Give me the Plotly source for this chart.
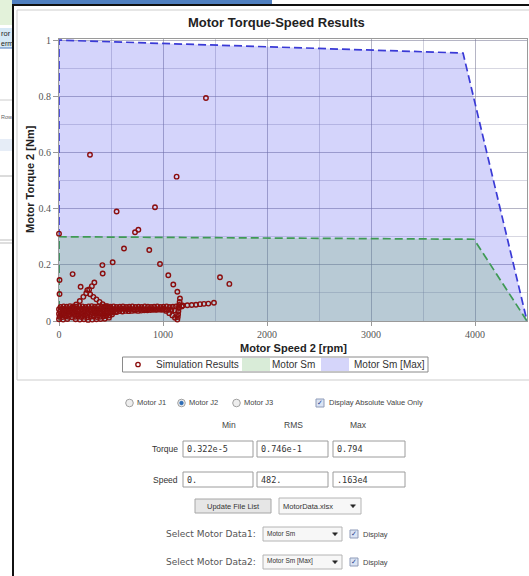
import plotly.graph_objects as go

# ---------------- data ----------------
# Motor Sm [Max] envelope (speed rpm, torque Nm)
max_speed = [0, 0, 3885, 4500]
max_torque = [0, 1.0, 0.954, 0]

# Motor Sm envelope
sm_speed = [0, 0, 3990, 4500]
sm_torque = [0, 0.300, 0.291, 0]

# Simulation results
sim_speed = [
    # isolated points
    1413, 298, 1131, 923, 554, 0, 731, 763, 625, 868, 516, 417, 971, 131, 420,
    1051, 1099, 1138, 1163, 1548, 1638, 5, 5, 208, 272, 340,
    # rising diagonal
    45, 90, 130, 165, 200, 234, 262, 290, 316,
    # falling diagonal
    300, 330, 360, 390, 420, 450, 480, 510,
    # right tail
    1189, 1234, 1276, 1317, 1356, 1394, 1436, 1490,
    # column near 1150
    1160, 1156, 1152, 1148, 1145, 1142, 1138,
    # slanted return
    1000, 1030, 1060, 1090, 1115,
    # band a
    15, 45, 75, 105, 135, 165, 195, 225, 255, 285, 315, 345, 375, 405, 435, 465,
    495, 525, 555, 585, 615, 645, 675, 705, 735, 765, 795, 825, 855, 885, 915,
    945, 975, 1005, 1035, 1065, 1095, 1125, 1155, 1180,
    # band b
    0, 30, 60, 90, 120, 150, 180, 210, 240, 270, 300, 330, 360, 390, 420, 450,
    480, 510, 540, 570, 600, 630, 660, 690, 720, 750, 780, 810, 840, 870, 900,
    930, 960, 990, 1020, 1050, 1080, 1110,
    # band c
    10, 40, 70, 100, 130, 160, 190, 220, 250, 280, 310, 340, 370, 400, 430, 460,
    490, 520, 550, 580, 610, 640, 670, 700, 730, 760, 790, 820, 850, 880, 910,
    940, 970,
    # band d
    0, 25, 50, 75, 100, 125, 150, 175, 200, 225, 250, 275, 300, 325, 350, 375,
    400, 425, 450, 475, 500, 525, 555,
    # band e
    5, 35, 65, 95, 125, 155, 185, 215, 245, 275, 305, 335, 365, 395, 425, 455,
    485, 510,
    # band f
    0, 40, 80, 160, 200, 240, 280, 320, 360, 400, 440, 480,
]
sim_torque = [
    0.794, 0.592, 0.514, 0.405, 0.390, 0.311, 0.316, 0.325, 0.258, 0.253, 0.209,
    0.199, 0.203, 0.167, 0.169, 0.163, 0.130, 0.104, 0.080, 0.156, 0.132, 0.146,
    0.096, 0.122, 0.110, 0.137,
    0.027, 0.037, 0.048, 0.059, 0.071, 0.086, 0.099, 0.112, 0.124,
    0.095, 0.086, 0.077, 0.068, 0.060, 0.053, 0.047, 0.041,
    0.055, 0.056, 0.057, 0.058, 0.060, 0.061, 0.062, 0.065,
    0.068, 0.057, 0.046, 0.035, 0.024, 0.014, 0.005,
    0.043, 0.036, 0.028, 0.020, 0.012,
    0.050, 0.052, 0.051, 0.053, 0.052, 0.051, 0.053, 0.052, 0.050, 0.052, 0.053,
    0.051, 0.052, 0.050, 0.052, 0.053, 0.051, 0.052, 0.050, 0.051, 0.052, 0.050,
    0.051, 0.052, 0.050, 0.051, 0.050, 0.052, 0.051, 0.050, 0.051, 0.052, 0.050,
    0.051, 0.052, 0.050, 0.051, 0.052, 0.050, 0.052,
    0.042, 0.044, 0.043, 0.042, 0.044, 0.043, 0.041, 0.043, 0.044, 0.042, 0.043,
    0.044, 0.042, 0.043, 0.041, 0.043, 0.044, 0.042, 0.043, 0.042, 0.044, 0.043,
    0.042, 0.043, 0.041, 0.042, 0.043, 0.042, 0.041, 0.043, 0.042, 0.041, 0.042,
    0.040, 0.041, 0.040, 0.039, 0.038,
    0.034, 0.033, 0.035, 0.034, 0.032, 0.034, 0.035, 0.033, 0.034, 0.032, 0.033,
    0.035, 0.034, 0.032, 0.034, 0.033, 0.035, 0.034, 0.033, 0.035, 0.034, 0.036,
    0.035, 0.036, 0.037, 0.036, 0.037, 0.038, 0.038, 0.039, 0.040, 0.040, 0.041,
    0.026, 0.024, 0.025, 0.027, 0.024, 0.026, 0.025, 0.023, 0.026, 0.025, 0.024,
    0.026, 0.025, 0.027, 0.026, 0.027, 0.028, 0.027, 0.028, 0.029, 0.030, 0.031,
    0.032,
    0.015, 0.014, 0.016, 0.015, 0.013, 0.015, 0.016, 0.014, 0.015, 0.013, 0.015,
    0.016, 0.014, 0.015, 0.016, 0.018, 0.020, 0.023,
    0.006, 0.005, 0.007, 0.006, 0.005, 0.006, 0.004, 0.005, 0.006, 0.007, 0.008,
    0.012,
]

legend_labels = ["Simulation Results", "Motor Sm", "Motor Sm [Max]"]
motor_options = ["Motor J1", "Motor J2", "Motor J3"]
stat_headers = ["Min", "RMS", "Max"]
stat_torque = ["0.322e-5", "0.746e-1", "0.794"]
stat_speed = ["0.", "482.", ".163e4"]

# ---------------- geometry helpers ----------------
W, H = 529, 576
ML, MR, MT, MB = 59, 2, 39, 255
PW = W - ML - MR
PH = H - MT - MB


def X(px):
    return (px - ML) / PW


def Y(py):
    return (H - MB - py) / PH


shapes = []
annots = []


def rect(x0, y0, x1, y1, fill=None, line=None, lw=1):
    shapes.append(dict(type="rect", xref="paper", yref="paper",
                       x0=X(x0), x1=X(x1), y0=Y(y0), y1=Y(y1),
                       fillcolor=fill if fill else "rgba(0,0,0,0)",
                       line=dict(color=line if line else "rgba(0,0,0,0)", width=lw if line else 0)))


def hline(x0, x1, y, color, lw=1):
    shapes.append(dict(type="line", xref="paper", yref="paper",
                       x0=X(x0), x1=X(x1), y0=Y(y), y1=Y(y),
                       line=dict(color=color, width=lw)))


def vline(x, y0, y1, color, lw=1):
    shapes.append(dict(type="line", xref="paper", yref="paper",
                       x0=X(x), x1=X(x), y0=Y(y0), y1=Y(y1),
                       line=dict(color=color, width=lw)))


def circle(cx, cy, r, fill, line, lw=1):
    shapes.append(dict(type="circle", xref="paper", yref="paper",
                       x0=X(cx - r), x1=X(cx + r), y0=Y(cy + r), y1=Y(cy - r),
                       fillcolor=fill, line=dict(color=line, width=lw)))


def tri(cx, cy, color):
    path = "M {} {} L {} {} L {} {} Z".format(X(cx - 2.5), Y(cy - 1.2), X(cx + 2.5), Y(cy - 1.2), X(cx), Y(cy + 1.8))
    shapes.append(dict(type="path", xref="paper", yref="paper", path=path,
                       fillcolor=color, line=dict(color=color, width=0.5)))


def text(px, py, s, size=8, color="#333", family="Liberation Sans", xa="left", ya="middle", angle=0):
    annots.append(dict(x=X(px), y=Y(py), xref="paper", yref="paper", text=s,
                       showarrow=False, xanchor=xa, yanchor=ya, textangle=angle,
                       font=dict(size=size, color=color, family=family), borderpad=0))


# ---------------- background window bits ----------------
rect(0, 0, 12, 25, fill="#e3f2da")
rect(0, 28, 12, 48, fill="#d6e9f6")
text(0, 33, "ror", 7.5, "#222", xa="left")
text(0, 43, "erm", 7, "#222", xa="left")
hline(0, 12, 48, "#4a7bbf", 1)
hline(0, 12, 100, "#cccccc", 1)
text(0, 117, "Row", 5.5, "#666", xa="left")
rect(0, 139, 12, 151, fill="#e6edf7")
hline(0, 12, 176, "#b8b8b8", 1)
hline(0, 12, 240, "#bdbdbd", 1)
hline(0, 12, 243, "#bdbdbd", 1)

rect(12, 0, 272, 4, fill="#4f7fc0")
hline(12, 529, 5, "#111111", 2)
vline(13, 4, 576, "#111111", 2)

# chart panel border
rect(17, 10, 540, 380, line="#cdcdcd", lw=1)

# ---------------- chart titles ----------------
text(276, 23, "<b>Motor Torque-Speed Results</b>", 13, "#222", xa="center")
text(293, 348, "<b>Motor Speed 2 [rpm]</b>", 11, "#222", xa="center")
text(30, 179, "<b>Motor Torque 2 [Nm]</b>", 11, "#222", xa="center", angle=-90)

# ---------------- legend ----------------
rect(122.5, 357, 428, 372, fill="white", line="#8a8a8a", lw=1)
circle(138, 364.5, 2.2, "rgba(0,0,0,0)", "#8b0d0d", 1.3)
text(155, 364.5, legend_labels[0], 10, "#333")
rect(242, 358, 270, 371, fill="#d9ecd8")
text(271, 364.5, legend_labels[1], 10, "#333")
rect(321, 358, 349, 371, fill="#d5d5fa")
text(353, 364.5, legend_labels[2], 10, "#333")

# ---------------- controls ----------------
radio_x = [129.5, 181.5, 236.5]
for i, lab in enumerate(motor_options):
    circle(radio_x[i], 403, 3.8, "#eeeeee", "#a0a0a0", 1)
    text(radio_x[i] + 6, 403, lab, 7.5, "#444")
circle(radio_x[1], 403, 1.9, "#2f6db5", "#2f6db5", 0.5)

def checkbox(x0, yc):
    rect(x0, yc - 4, x0 + 8, yc + 4, fill="#dbe4f4", line="#8e9bb8", lw=1)
    text(x0 + 4, yc, "✓", 7, "#1d3e8c", family="DejaVu Sans", xa="center")

checkbox(316, 403)
text(328, 403, "Display Absolute Value Only", 7.5, "#444")

head_x = [229, 293, 358]
for hx, h in zip(head_x, stat_headers):
    text(hx, 425, h, 8.5, "#444", xa="center")

box_x = [(183, 253), (257, 328), (333, 405)]
text(179, 449, "Torque", 8.5, "#333", xa="right")
for (bx0, bx1), v in zip(box_x, stat_torque):
    rect(bx0, 441, bx1, 457, fill="white", line="#9c9c9c", lw=1)
    text(bx0 + 3, 449, v, 8.5, "#333", family="DejaVu Sans Mono")
text(179, 479.5, "Speed", 8.5, "#333", xa="right")
for (bx0, bx1), v in zip(box_x, stat_speed):
    rect(bx0, 472, bx1, 487, fill="white", line="#9c9c9c", lw=1)
    text(bx0 + 3, 479.5, v, 8.5, "#333", family="DejaVu Sans Mono")

# update button + file dropdown
rect(195, 499, 271, 513, fill="#e6e6e6", line="#a6a6a6", lw=1)
text(233, 506, "Update File List", 7.5, "#333", xa="center")
rect(279, 498, 361, 514, fill="#f7f7f7", line="#b4b4b4", lw=1)
text(282, 506, "MotorData.xlsx", 7.5, "#333")
tri(353, 506, "#222")

# data selectors
for yc, lab, opt in [(534, "Select Motor Data1:", "Motor Sm"), (562, "Select Motor Data2:", "Motor Sm [Max]")]:
    text(257, yc, lab, 9, "#555", family="DejaVu Sans", xa="right")
    rect(263, yc - 7, 342, yc + 7, fill="#f7f7f7", line="#b4b4b4", lw=1)
    text(266, yc - 1, opt, 6.5, "#333")
    tri(335, yc, "#222")
    checkbox(350, yc)
    text(362, yc, "Display", 7.5, "#444")

# ---------------- traces ----------------
fig = go.Figure()
fig.add_trace(go.Scatter(
    x=max_speed, y=max_torque, mode="lines", fill="toself",
    fillcolor="rgba(60,60,235,0.22)",
    line=dict(color="#3a3ad6", width=1.7, dash="8px,4px"),
    cliponaxis=False, hoverinfo="skip", name=legend_labels[2]))
fig.add_trace(go.Scatter(
    x=sm_speed, y=sm_torque, mode="lines", fill="toself",
    fillcolor="rgba(101,173,98,0.25)",
    line=dict(color="#3f9a55", width=1.7, dash="8px,4px"),
    cliponaxis=False, hoverinfo="skip", name=legend_labels[1]))
fig.add_trace(go.Scatter(
    x=sim_speed, y=sim_torque, mode="markers",
    marker=dict(symbol="circle-open", size=4.5, color="#8b0d0d", line=dict(width=1.4, color="#8b0d0d")),
    cliponaxis=False, name=legend_labels[0]))

tickfont = dict(family="Liberation Serif", size=10, color="#555")
fig.update_layout(
    width=W, height=H, autosize=False,
    margin=dict(l=ML, r=MR, t=MT, b=MB, pad=0),
    paper_bgcolor="white", plot_bgcolor="white",
    showlegend=False,
    xaxis=dict(range=[0, 4500], tick0=0, dtick=1000, showgrid=True,
               gridcolor="rgba(120,120,150,0.55)", gridwidth=1,
               minor=dict(dtick=500, showgrid=True, gridcolor="rgba(140,140,170,0.40)"),
               ticks="outside", ticklen=4, tickcolor="#999", tickfont=tickfont,
               showline=True, mirror=True, linecolor="#9a9a9a", linewidth=1,
               zeroline=False, layer="below traces"),
    yaxis=dict(range=[0, 1.004], tick0=0, dtick=0.2, showgrid=True,
               gridcolor="rgba(120,120,150,0.55)", gridwidth=1,
               minor=dict(dtick=0.1, showgrid=True, gridcolor="rgba(140,140,170,0.35)"),
               ticks="outside", ticklen=5, tickcolor="#999", tickfont=tickfont,
               showline=True, mirror=True, linecolor="#9a9a9a", linewidth=1,
               zeroline=False, layer="below traces"),
    shapes=shapes, annotations=annots,
)

fig.write_html("out.html")
